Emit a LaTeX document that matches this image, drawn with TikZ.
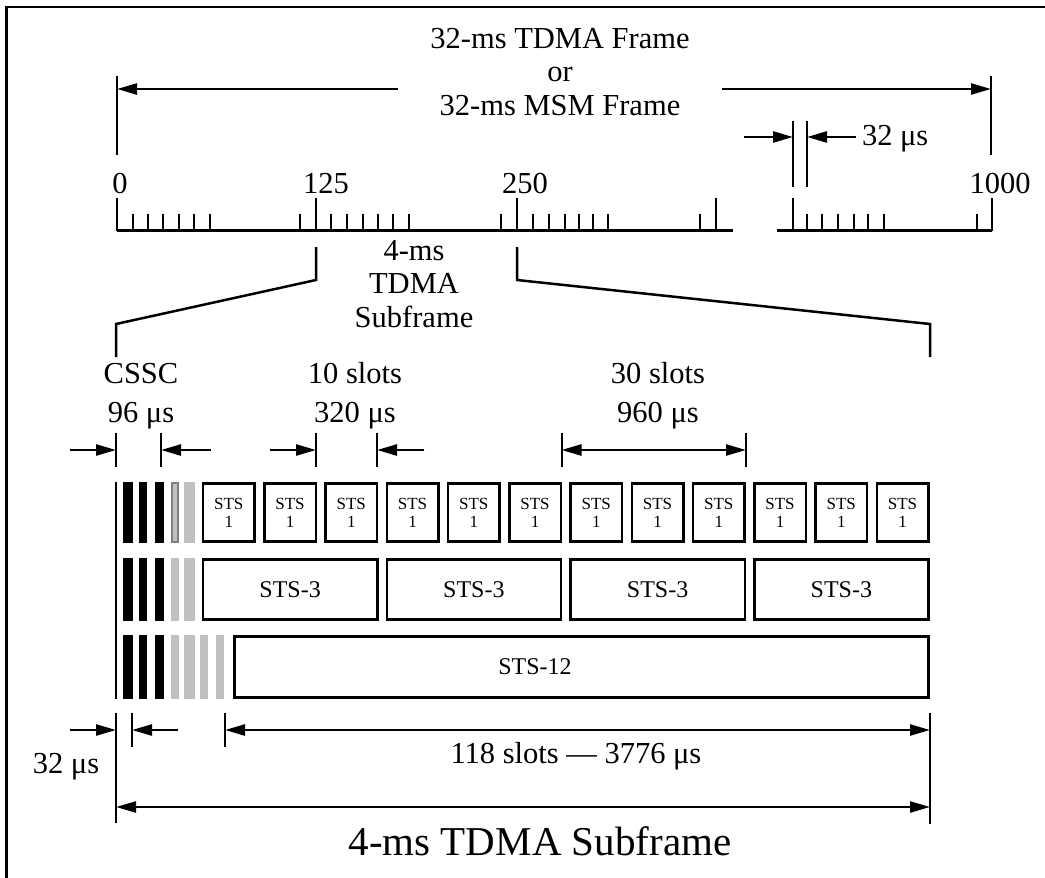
\documentclass[tikz,border=0pt]{standalone}
\usepackage{fontspec}
\setmainfont{Liberation Serif}
\usetikzlibrary{arrows.meta}
\definecolor{barsilver}{RGB}{192,192,192}
\definecolor{bargrey}{RGB}{128,128,128}
\begin{document}
\begin{tikzpicture}[x=1pt,y=-1pt,
  every node/.style={inner sep=0pt,outer sep=0pt},
  txt/.style={font=\fontsize{30.5}{34}\selectfont,anchor=base},
  big/.style={font=\fontsize{41}{46}\selectfont,anchor=base},
  ln/.style={line width=2.5pt},
  tck/.style={line width=2.2pt},
  thin/.style={line width=2pt},
  dimarrow/.style={line width=2.5pt,-{Triangle[length=20pt,width=11pt]}},
  dimboth/.style={line width=2.5pt,{Triangle[length=20pt,width=11pt]}-{Triangle[length=20pt,width=11pt]}},
  stsone/.style={draw,line width=2.5pt,minimum width=51.5pt,minimum height=58pt,anchor=north west,
    font=\fontsize{17}{20}\selectfont,align=center},
  ststhree/.style={draw,line width=2.5pt,minimum width=174.25pt,minimum height=60pt,anchor=north west,
    font=\fontsize{24}{28}\selectfont},
  ststwelve/.style={draw,line width=2.5pt,minimum width=694pt,minimum height=61pt,anchor=north west},
]
\useasboundingbox (0,0) rectangle (1045,878);
% outer frame (top and left edges)
\draw[line width=2.5pt] (6.5,880) -- (6.5,7) -- (1047,7);

% ---------- top frame dimension ----------
\coordinate (fL) at (117,76);  \coordinate (fLb) at (117,155);
\coordinate (fR) at (991,76);  \coordinate (fRb) at (991,155);
\draw[thin] (fL) -- (fLb);
\draw[thin] (fR) -- (fRb);
\coordinate (fLa) at (398,89); \coordinate (fLt) at (117,89);
\coordinate (fRa) at (722,89); \coordinate (fRt) at (991,89);
\draw[dimarrow] (fLa) -- (fLt);
\draw[dimarrow] (fRa) -- (fRt);
\node[txt] (t1) at (560,48) {32-ms TDMA Frame};
\node[txt] (t2) at (560,81) {or};
\node[txt] (t3) at (560,115) {32-ms MSM Frame};

% ---------- 32 us top ----------
\coordinate (gA) at (793,121); \coordinate (gAb) at (793,187);
\coordinate (gB) at (807,121); \coordinate (gBb) at (807,187);
\draw[thin] (gA) -- (gAb);
\draw[thin] (gB) -- (gBb);
\coordinate (gAs) at (744,137); \coordinate (gAt) at (793,137);
\coordinate (gBs) at (856,137); \coordinate (gBt) at (807,137);
\draw[dimarrow] (gAs) -- (gAt);
\draw[dimarrow] (gBs) -- (gBt);
\node[txt,anchor=base west] (g32) at (862,145) {32 μs};

% ---------- ruler ----------
\coordinate (r1a) at (117,230.5); \coordinate (r1b) at (733,230.5);
\coordinate (r2a) at (777,230.5); \coordinate (r2b) at (992,230.5);
\draw[line width=3pt] (r1a) -- (r1b);
\draw[line width=3pt] (r2a) -- (r2b);
\foreach \x in {117,316,517,716,793,992}
  \draw[tck] (\x,198) -- (\x,230.5);
\foreach \x in {133,148,163,179,194,210,300,
                331,347,363,378,393,409,501,
                533,549,565,579,593,608,700,
                807,822,838,854,868,884,977}
  \draw[tck] (\x,214) -- (\x,230.5);
\node[txt] (l0) at (120,193) {0};
\node[txt] (l125) at (326,193) {125};
\node[txt] (l250) at (525,193) {250};
\node[txt] (l1000) at (1000,193) {1000};

% ---------- zoom lines ----------
\coordinate (zA1) at (316,247); \coordinate (zA2) at (316,280);
\coordinate (zA3) at (116,324); \coordinate (zA4) at (116,357);
\coordinate (zB1) at (517,247); \coordinate (zB2) at (517,280);
\coordinate (zB3) at (930,324); \coordinate (zB4) at (930,357);
\draw[ln] (zA1) -- (zA2) -- (zA3) -- (zA4);
\draw[ln] (zB1) -- (zB2) -- (zB3) -- (zB4);
\node[txt] (m1) at (414,260) {4-ms};
\node[txt] (m2) at (414,293) {TDMA};
\node[txt] (m3) at (414,327) {Subframe};

% ---------- upper dimension labels ----------
\node[txt] (cssc) at (141,383) {CSSC};
\node[txt] (c96) at (141,422) {96 μs};
\node[txt] (s10) at (355,383) {10 slots};
\node[txt] (s320) at (355,422) {320 μs};
\node[txt] (s30) at (658,383) {30 slots};
\node[txt] (s960) at (658,422) {960 μs};

\foreach \x/\n in {116/cA,161/cB,316/dA,377/dB,561.5/eA,746/eB}{
  \coordinate (\n t) at (\x,433); \coordinate (\n b) at (\x,467); \coordinate (\n m) at (\x,450);
  \draw[thin] (\n t) -- (\n b);
}
\coordinate (cAs) at (70,450);  \draw[dimarrow] (cAs) -- (cAm);
\coordinate (cBs) at (211,450); \draw[dimarrow] (cBs) -- (cBm);
\coordinate (dAs) at (270,450); \draw[dimarrow] (dAs) -- (dAm);
\coordinate (dBs) at (424,450); \draw[dimarrow] (dBs) -- (dBm);
\draw[dimboth] (eAm) -- (eBm);

% ---------- bars ----------
\coordinate (vt) at (116,482); \coordinate (vb) at (116,699);
\draw[thin] (vt) -- (vb);
\foreach \ya/\yb in {482/543,558/621,635/699}{
  \foreach \xa/\xb in {123/133,139/147,155/164}
    \fill[black] (\xa,\ya) rectangle (\xb,\yb);
  \foreach \xa/\xb in {171/179,184/195}
    \fill[barsilver] (\xa,\ya) rectangle (\xb,\yb);
}
\foreach \xa/\xb in {200/208,216/224}
  \fill[barsilver] (\xa,635) rectangle (\xb,699);
\draw[bargrey,line width=2pt] (172,483) rectangle (178,542);

% ---------- STS boxes ----------
\foreach \k in {0,...,11}
  \node[stsone] (sa\k) at ({203+61.25*\k},483.5) {STS\\[-2pt]1};
\foreach \k in {0,...,3}
  \node[ststhree] (sb\k) at ({203+183.75*\k},559.5) {STS-3};
\node[ststwelve] (sc) at (234.5,636.5) {};
\node[font=\fontsize{24}{28}\selectfont] (sclbl) at (535,667) {STS-12};

% ---------- bottom dimensions ----------
\coordinate (bA) at (116,713); \coordinate (bAb) at (116,823);
\coordinate (bB) at (132,713); \coordinate (bBb) at (132,747);
\coordinate (bC) at (225,713); \coordinate (bCb) at (225,747);
\coordinate (bD) at (930,713); \coordinate (bDb) at (930,824);
\draw[thin] (bA) -- (bAb);
\draw[thin] (bB) -- (bBb);
\draw[thin] (bC) -- (bCb);
\draw[thin] (bD) -- (bDb);
\coordinate (bAs) at (70,730); \coordinate (bAm) at (116,730);
\coordinate (bBs) at (178,730); \coordinate (bBm) at (132,730);
\coordinate (bCm) at (225,730); \coordinate (bDm) at (930,730);
\draw[dimarrow] (bAs) -- (bAm);
\draw[dimarrow] (bBs) -- (bBm);
\draw[dimboth] (bCm) -- (bDm);
\node[txt] (b32) at (66,773) {32 μs};
\node[txt] (b118) at (576,763) {118 slots — 3776 μs};
\coordinate (bEl) at (116,807); \coordinate (bEr) at (930,807);
\draw[dimboth] (bEl) -- (bEr);
\node[big] (btitle) at (540,855) {4-ms TDMA Subframe};
\end{tikzpicture}
\end{document}
